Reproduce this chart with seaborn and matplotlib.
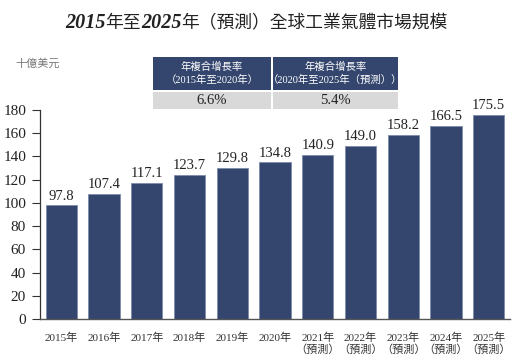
import matplotlib
matplotlib.use("Agg")
import matplotlib.pyplot as plt
import seaborn as sns
import pandas as pd
from matplotlib.patches import Rectangle

years = ["2015年", "2016年", "2017年", "2018年", "2019年", "2020年",
         "2021年\n（預測）", "2022年\n（預測）", "2023年\n（預測）",
         "2024年\n（預測）", "2025年\n（預測）"]
values = [97.8, 107.4, 117.1, 123.7, 129.8, 134.8, 140.9, 149.0, 158.2, 166.5, 175.5]
y_ticks = [0, 20, 40, 60, 80, 100, 120, 140, 160, 180]
cagr_headers = ["年複合增長率\n（2015年至2020年）", "年複合增長率\n（2020年至2025年（預測））"]
cagr_values = ["6.6%", "5.4%"]
title_parts = ["2015", "年至", "2025", "年（預測）全球工業氣體市場規模"]
unit_label = "十億美元"

sns.set_theme(style="white")
FAM = ["Liberation Serif", "Noto Sans CJK TC", "DejaVu Sans"]
plt.rcParams["font.family"] = FAM

NAVY = "#34466E"
W, H = 521, 360
fig = plt.figure(figsize=(W / 100, H / 100), dpi=100)
ax = fig.add_axes([40 / W, 41 / H, 470 / W, 209 / H])

df = pd.DataFrame({"year": years, "value": values})
sns.barplot(data=df, x="year", y="value", color=NAVY, width=0.73,
            edgecolor="#7d8cab", linewidth=0.6, saturation=1, ax=ax)

ax.set_ylim(0, 180)
ax.set_xlim(-0.5, 10.5)
ax.set_yticks(y_ticks)
ax.set_yticklabels([str(t) for t in y_ticks], fontsize=11, color="#222222")
ax.tick_params(axis="y", which="major", left=True, length=6, width=0.8, color="#333333", pad=4)
ax.tick_params(axis="x", bottom=False, labelsize=8, colors="#333333", pad=4)
for lab in ax.get_xticklabels():
    lab.set_linespacing(1.15)
ax.set_xlabel("")
ax.set_ylabel("")
for s in ["top", "right"]:
    ax.spines[s].set_visible(False)
ax.spines["left"].set_color("#333333")
ax.spines["left"].set_linewidth(0.9)
ax.spines["bottom"].set_color("#555555")
ax.spines["bottom"].set_linewidth(1.0)

for i, v in enumerate(values):
    ax.text(i, v + 2.5, f"{v:.1f}", ha="center", va="bottom", fontsize=10.5, color="#222222")

# Title: numbers bold italic serif, CJK regular
renderer = fig.canvas.get_renderer()
styles = []
for p in title_parts:
    if p[0].isdigit():
        styles.append(dict(family=["Liberation Serif"], fontweight="bold", fontstyle="italic", fontsize=14.5))
    else:
        styles.append(dict(family=["Noto Sans CJK TC"], fontweight="normal", fontsize=12.8))
texts = []
widths = []
for p, st in zip(title_parts, styles):
    t = fig.text(0, 1 - 23 / H, p, ha="left", va="center", color="#222222", **st)
    texts.append(t)
    widths.append(t.get_window_extent(renderer).width)
total = sum(widths)
x = 256.5 - total / 2
for t, w in zip(texts, widths):
    t.set_x(x / W)
    x += w

# unit
fig.text(15 / W, 1 - 64 / H, unit_label, ha="left", va="center", fontsize=8,
         color="#777777")

# CAGR table
cells = [(153, 271), (273, 398)]
for (x0, x1), hdr, val in zip(cells, cagr_headers, cagr_values):
    fig.patches.append(Rectangle((x0 / W, 1 - 90 / H), (x1 - x0) / W, 33 / H,
                                 transform=fig.transFigure, facecolor=NAVY, edgecolor="none"))
    fig.patches.append(Rectangle((x0 / W, 1 - 109 / H), (x1 - x0) / W, 17 / H,
                                 transform=fig.transFigure, facecolor="#d9d9d9", edgecolor="none"))
    fig.text((x0 + x1) / 2 / W, 1 - 73.5 / H, hdr, ha="center", va="center", fontsize=7.5,
             color="white", linespacing=1.3)
    fig.text((x0 + x1) / 2 / W, 1 - 100.5 / H, val, ha="center", va="center", fontsize=10.5,
             color="#222222")

fig.savefig("out.png", dpi=100)
